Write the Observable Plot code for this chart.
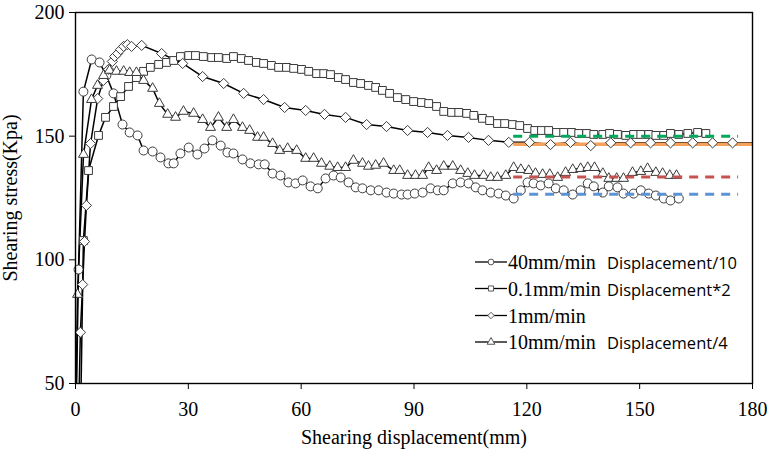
<!DOCTYPE html>
<html><head><meta charset="utf-8">
<script src="https://cdn.jsdelivr.net/npm/d3@7"></script>
<script src="https://cdn.jsdelivr.net/npm/@observablehq/plot@0.6"></script>
<style>
body{margin:0;background:#fff}
#wrap{position:relative;width:768px;height:450px}
#wrap svg.overlay{position:absolute;left:0;top:0;pointer-events:none}
</style>
</head><body><div id="wrap"></div>
<script>
// ---- tick labels ----
const xTicks = [0, 30, 60, 90, 120, 150, 180];
const yTicks = [50, 100, 150, 200];

// ---- series: 40mm/min (circle) Displacement/10 ----
const c40X = [0.3,0.8,2.1,4.3,6.4,8.2,10.1,12.5,14.4,16.5,18.1,20.5,22.6,24.7,26.1,27.9,30.1,32.4,34.3,36.4,38.6,40.4,42,44.4,46.5,48.7,50.3,52.4,54.5,56.6,58.5,60.4,62.5,64.4,66.5,68.6,70.5,72.6,74.5,76.3,78.5,80.6,82.7,84.6,86.7,88.3,90.2,92.3,94.4,96.3,97.9,100.3,102.4,104.5,106.4,108.2,110.4,112.5,114.4,116.5,118.4,120.2,121.8,123.7,125.8,127.7,129.8,132.2,134.3,136.2,137.8,140.2,141.8,144.1,145.7,148.4,150.3,152.4,154.3,156.4,158.2,160.4];
const c40Y = [50,96.1,168,181,179.8,174.5,167.3,154.7,151.5,150.3,144.2,143.8,141.4,139,139,143,145.4,142.6,145,148.3,146.2,143.4,143,140.6,139,138.6,138.6,134.9,134.1,131.3,130.9,132.1,129.7,128.9,132.9,134.1,133.3,131.3,129.3,128.9,128.1,128.1,127.2,126.8,126.4,126.4,126.8,127.2,128.9,128.1,128.1,130.9,131.3,130.9,129.3,128.1,127.2,126.8,126,124.8,128.1,131.3,130.9,130.1,130.9,128.9,128.1,126.4,128.1,130.9,129.7,127.2,129.7,129.3,126.8,126.8,128.1,126.8,126,124.8,124,124.8];

// ---- series: 0.1mm/min (square) Displacement*2 ----
const c01X = [1.5,2.1,3.46,6.12,7.98,10.1,12.0,14.1,16.2,18.1,19.9,22.1,24.2,26.1,27.9,30.1,31.9,34.0,36.2,38.0,40.2,42.0,44.1,46.0,48.1,50.0,52.1,54.0,56.1,58.0,60.1,62.0,64.1,66.0,67.8,69.9,71.8,73.9,75.8,77.9,79.8,81.6,83.5,85.6,87.8,89.9,92.0,93.9,96.0,97.9,100.0,101.9,104.0,105.9,108.2,110.1,112.2,114.1,116.2,118.1,120.2,122.1,123.9,125.8,127.9,129.8,131.9,133.8,135.9,137.8,140.2,142.0,144.1,146.3,148.4,150.3,152.4,154.3,156.4,158.2,160.4,162.8,165.4,167.6];
const c01Y = [50,107.8,136.1,150.3,157.6,162.0,166.0,170.1,173.7,176.2,177.8,179.0,179.8,180.6,182.2,182.6,182.6,182.2,181.8,181.8,181.4,182.2,181.4,180.6,179.8,179.4,178.6,177.8,177.8,177.4,177.0,176.2,175.3,175.3,174.9,173.7,172.9,171.7,171.3,170.5,169.7,168.5,167.3,165.6,164.8,164.0,163.6,163.2,162.0,160.0,159.6,159.6,159.2,158.4,157.2,156.3,155.1,155.1,154.7,154.3,153.1,152.3,152.3,152.3,151.5,151.5,151.5,151.1,151.1,150.7,150.7,151.1,150.7,150.3,150.7,150.7,150.7,150.3,150.3,151.1,150.7,151.1,151.5,151.1];

// ---- series: 1mm/min (diamond) ----
const c1X = [1.0,1.3,1.9,2.4,2.9,4.0,5.9,7.4,8.8,9.8,10.4,11.2,12,12.8,13.8,14.9,17.6,22.9,28.5,33.8,39.4,44.7,50,55.6,61.2,66.2,71.8,77.4,82.7,88.3,93.6,98.9,104.5,109.8,115.2,120.7,126.3,131.6,137,142.3,147.6,152.9,158.2,164.1,169.4,174.7,180];
const c1Y = [50,70.7,90,107.4,122,147,165.2,172.5,177,180.2,182.2,183.4,185,186.3,187,186.3,186.7,183.4,179.4,174.1,171.3,167.3,164.8,161.6,160.4,158.8,157.6,154.7,153.9,152.3,151.5,150.3,149.5,148.3,147.5,147.5,146.6,147.5,146.2,147.3,147.3,147.3,147.3,147.3,147.3,147.3,147.3];

// ---- series: 10mm/min (triangle) Displacement/4 ----
const c10X = [0.2,0.53,2.13,4.26,5.85,7.45,9.04,10.9,12.8,14.4,16.2,18.1,20.5,22.3,24.5,26.6,28.7,31.4,33.8,35.9,38.0,40.2,42.0,44.4,46.3,48.4,50.0,52.4,54.3,56.4,58.8,61.2,63.3,65.4,67.6,69.7,71.8,73.9,76.3,77.9,79.8,81.9,84.6,86.2,88.3,90.4,92.3,93.9,96.0,97.9,100.3,102.4,104.3,106.1,108.5,110.4,112.2,114.4,116.5,118.4,120.5,122.3,124.2,126.1,128.2,130.3,132.2,134.3,136.2,138.0,140.2,141.8,143.9,145.7,148.1,150.3,152.1,154.3,156.1,158.0,159.8];
const c10Y = [50,86.0,142.6,164.8,170.5,174.5,176.6,176.2,176.2,175.7,175.7,172.5,169.3,163.2,158.8,157.6,160.0,159.2,156.7,153.5,157.6,153.5,156.7,153.5,152.3,149.5,149.5,147.0,144.2,145.0,144.2,141.0,141.0,139.0,137.8,137.3,137.3,140.2,139.0,137.8,138.2,139.0,136.1,136.1,134.1,134.1,134.1,137.3,136.1,137.8,137.8,136.1,134.9,134.1,134.1,133.3,133.3,134.1,137.3,136.5,136.1,134.9,134.5,134.5,133.3,135.3,136.5,136.9,137.3,137.3,134.9,132.9,132.9,132.9,135.3,135.7,136.9,135.3,134.9,134.1,134.1];

// ---- residual strength reference lines ----
const resName = ["0.1mm/min", "1mm/min", "10mm/min", "40mm/min"];
const resStress = [150, 146.7, 133.5, 126.5];
const resFrom = [116.5, 116.5, 116.5, 116.5];
const resTo = [176.3, 180, 176.3, 176.3];
const resColor = ["#00a85a", "#f4a25c", "#c8504f", "#5b93d3"];

// ---- legend ----
const legendSpeed = ["40mm/min", "0.1mm/min", "1mm/min", "10mm/min"];
const legendNote = ["Displacement/10", "Displacement*2", "", "Displacement/4"];
const legendSymbol = ["circle", "square", "diamond2", "triangle"];

const toRows = (xs, ys) => xs.map((x, i) => ({x, y: ys[i]}));
const series = [
  {rows: toRows(c40X, c40Y), symbol: "circle", r: 4.5, last: true},
  {rows: toRows(c01X, c01Y), symbol: "square", r: 4.4, last: true},
  {rows: toRows(c1X, c1Y), symbol: "diamond2", r: 4.6, last: false},
  {rows: toRows(c10X, c10Y), symbol: "triangle", r: 3.7, last: true}
];
const resRows = resName.map((n, i) => ({name: n, y: resStress[i], x1: resFrom[i], x2: resTo[i], color: resColor[i]}));

const marks = [];
for (const s of series) {
  marks.push(Plot.line(s.rows, {x: "x", y: "y", stroke: "black", strokeWidth: 1.5, clip: true}));
}
// orange residual line (solid) over the curves, under the markers
marks.push(Plot.ruleY(resRows.filter(d => d.name === "1mm/min"), {y: "y", x1: "x1", x2: "x2", stroke: "color", strokeWidth: 3.5}));
for (const s of series) {
  const pts = s.rows.filter((d, i) => d.y > 50 && (s.last || i < s.rows.length - 1));
  marks.push(Plot.dot(pts, {x: "x", y: "y", symbol: () => s.symbol, r: s.r, fill: "white", stroke: "#3a3a3a", strokeWidth: 1}));
}
marks.push(Plot.ruleY(resRows.filter(d => d.name !== "1mm/min"), {y: "y", x1: "x1", x2: "x2", stroke: "color", strokeWidth: 3, strokeDasharray: "9,7"}));
marks.push(Plot.frame({stroke: "black", strokeWidth: 1.4}));
marks.push(Plot.axisX(xTicks, {tickSize: 6, tickPadding: 12, stroke: "black", label: "Shearing displacement(mm)", labelAnchor: "center", labelArrow: "none", labelOffset: 60}));
marks.push(Plot.axisY(yTicks, {tickSize: 6, tickPadding: 5, stroke: "black", label: "Shearing stress(Kpa)", labelAnchor: "center", labelArrow: "none", labelOffset: 73}));

const chart = Plot.plot({
  width: 768, height: 450,
  marginLeft: 75, marginRight: 16, marginTop: 12, marginBottom: 67,
  x: {domain: [0, 180]},
  y: {domain: [50, 200]},
  symbol: {type: "identity"},
  style: {fontFamily: "'Liberation Serif', 'Times New Roman', serif", fontSize: "20px", color: "black", background: "white"},
  marks
});
const wrap = document.getElementById("wrap");
wrap.appendChild(chart);

// legend overlay
const ov = d3.select(wrap).append("svg").attr("class", "overlay").attr("width", 768).attr("height", 450);
const rowY = [262, 288.5, 315.5, 342];
const symMap = {circle: d3.symbolCircle, square: d3.symbolSquare, diamond2: d3.symbolDiamond2, triangle: d3.symbolTriangle};
legendSpeed.forEach((name, i) => {
  const g = ov.append("g").attr("transform", `translate(0,${rowY[i]})`);
  g.append("line").attr("x1", 475).attr("x2", 507).attr("stroke", "black").attr("stroke-width", 1.3);
  g.append("path").attr("transform", "translate(491,0)").attr("d", d3.symbol(symMap[legendSymbol[i]], 26)())
    .attr("fill", "white").attr("stroke", "#555").attr("stroke-width", 1);
  g.append("text").attr("x", 508).attr("y", 7).attr("font-family", "'Liberation Serif', serif").attr("font-size", 20).text(name);
  if (legendNote[i]) g.append("text").attr("x", 607).attr("y", 7).attr("font-family", "'Open Sans', sans-serif").attr("font-size", 16.5).text(legendNote[i]);
});
</script>
</body></html>
